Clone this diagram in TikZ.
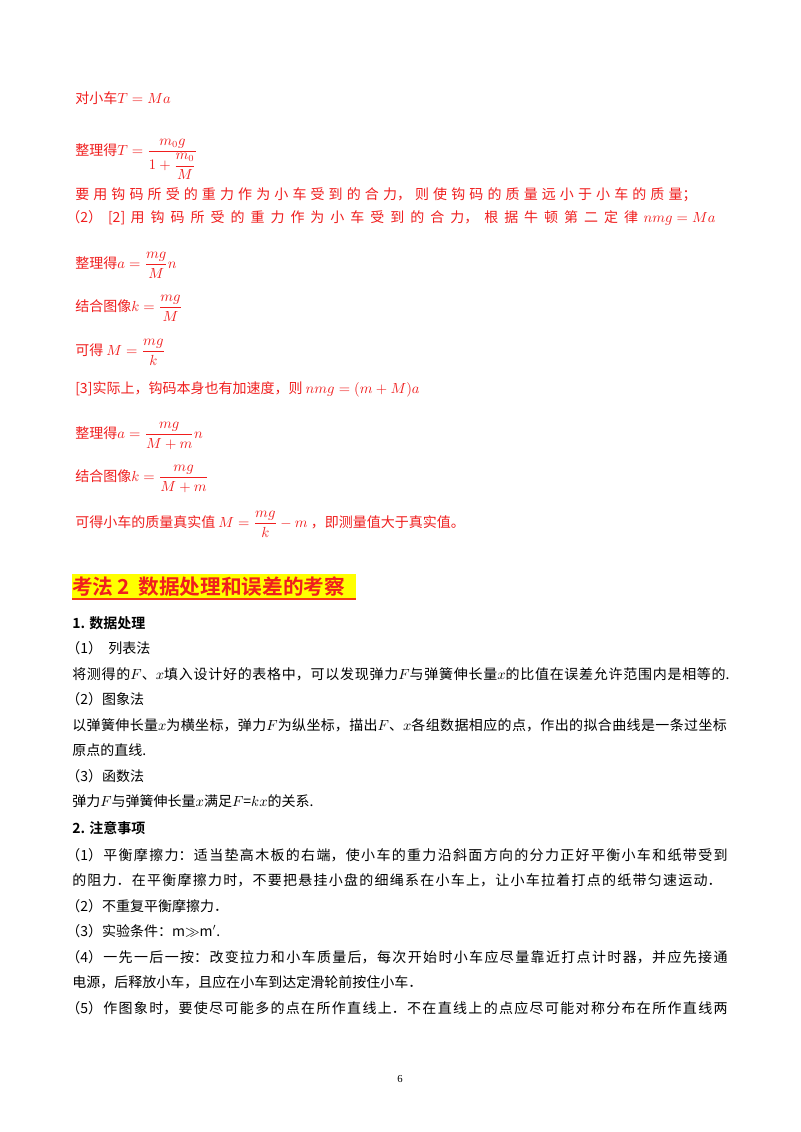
\documentclass[tikz,border=0pt]{standalone}
\usepackage{amsmath,amssymb}
\usepackage{fontspec}
\setmainfont{Liberation Serif}
\newfontfamily\cjk{Noto Sans CJK SC}
\newfontfamily\cjkb{Noto Sans CJK SC Bold}
\XeTeXlinebreaklocale "zh"
\XeTeXlinebreakskip=0pt plus 3pt
\thickmuskip=5mu
\medmuskip=4mu
\definecolor{rd}{RGB}{240,30,30}
\definecolor{hl}{RGB}{255,255,0}
\begin{document}
\begin{tikzpicture}[x=0.75pt,y=-0.75pt,
  ln/.style={anchor=base west,inner sep=0pt,font=\cjk\fontsize{10.5}{12}\selectfont},
  rl/.style={ln,text=rd},
  jl/.style={ln,text width=#1,align=justify,execute at begin node={\parfillskip=0pt\relax}}]
\useasboundingbox[fill=white] (0,0) rectangle (800,1132);
\node[rl] (l1) at (75,103) {对小车$T=Ma$};
\node[rl] (l2) at (75,155) {整理得$T=\dfrac{m_0g}{1+\dfrac{m_0}{M}}$};
\node[rl,jl=466pt] (l3) at (75,199) {要用钩码所受的重力作为小车受到的合力，则使钩码的质量远小于小车的质量；};
\node[rl,jl=487pt] (l4) at (66,222) {（2）[2] 用钩码所受的重力作为小车受到的合力，根据牛顿第二定律\ $nmg=Ma$};
\node[rl] (l5) at (75,268) {整理得$a=\dfrac{mg}{M}n$};
\node[rl] (l6) at (75,311) {结合图像$k=\dfrac{mg}{M}$};
\node[rl] (l7) at (75,355) {可得 $M=\dfrac{mg}{k}$};
\node[rl] (l8) at (75,393) {[3]实际上，钩码本身也有加速度，则\ $nmg=(m+M)a$};
\node[rl] (l9) at (75,438) {整理得$a=\dfrac{mg}{M+m}n$};
\node[rl] (l10) at (75,481) {结合图像$k=\dfrac{mg}{M+m}$};
\node[rl] (l11) at (75,527) {可得小车的质量真实值 $M=\dfrac{mg}{k}-m$ ，即测量值大于真实值。};
\fill[hl] (72,574) rectangle (356,600);
\node[anchor=base west,inner sep=0pt,text=rd,font=\cjkb\fontsize{15.5}{17}\selectfont] (h) at (72,594) {考法\,2\ \ 数据处理和误差的考察};
\draw[rd!70!orange,line width=1.5pt] (72,598.5) -- (356,598.5);
\node[ln,font=\cjkb\fontsize{10.5}{12}\selectfont] (a1) at (72,628) {1. 数据处理};
\node[ln] (a2) at (66,653) {（1）\ \ 列表法};
\node[ln,jl=493pt] (a3) at (72,679) {将测得的$F$、$x$填入设计好的表格中，可以发现弹力$F$与弹簧伸长量$x$的比值在误差允许范围内是相等的.};
\node[ln] (a4) at (66,704) {（2）图象法};
\node[ln,jl=491pt] (a5) at (72,730) {以弹簧伸长量$x$为横坐标，弹力$F$为纵坐标，描出$F$、$x$各组数据相应的点，作出的拟合曲线是一条过坐标};
\node[ln] (a6) at (72,755) {原点的直线.};
\node[ln] (a7) at (66,781) {（3）函数法};
\node[ln] (a8) at (72,806) {弹力$F$与弹簧伸长量$x$满足$F$=$kx$的关系.};
\node[ln,font=\cjkb\fontsize{10.5}{12}\selectfont] (b1) at (72,833) {2. 注意事项};
\node[ln,jl=496pt] (b2) at (66,860) {（1）平衡摩擦力：适当垫高木板的右端，使小车的重力沿斜面方向的分力正好平衡小车和纸带受到};
\node[ln,jl=487pt] (b3) at (72,885) {的阻力．在平衡摩擦力时，不要把悬挂小盘的细绳系在小车上，让小车拉着打点的纸带匀速运动．};
\node[ln] (b4) at (66,911) {（2）不重复平衡摩擦力．};
\node[ln] (b5) at (66,936) {（3）实验条件：m$\gg$m$'$.};
\node[ln,jl=496pt] (b6) at (66,962) {（4）一先一后一按：改变拉力和小车质量后，每次开始时小车应尽量靠近打点计时器，并应先接通};
\node[ln] (b7) at (72,987) {电源，后释放小车，且应在小车到达定滑轮前按住小车．};
\node[ln,jl=496pt] (b8) at (66,1013) {（5）作图象时，要使尽可能多的点在所作直线上．不在直线上的点应尽可能对称分布在所作直线两};
\node[anchor=base,inner sep=0pt,font=\fontsize{8}{9}\selectfont] (pg) at (400,1082) {6};
\end{tikzpicture}
\end{document}
